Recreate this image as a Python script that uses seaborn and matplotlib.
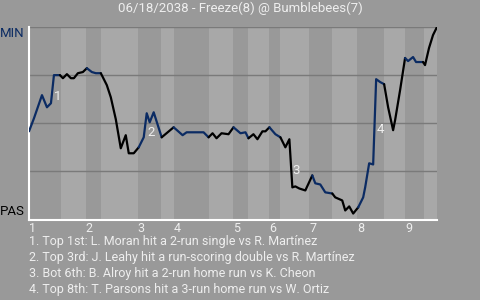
import matplotlib
matplotlib.use("Agg")
import matplotlib.pyplot as plt
import seaborn as sns
import pandas as pd

# ---------------- data ----------------
title = "06/18/2038 - Freeze(8) @ Bumblebees(7)"
away_label = "MIN"
home_label = "PAS"
inning_labels = ["1", "2", "3", "4", "5", "6", "7", "8", "9"]

# half-inning boundaries (play units)
half_bounds = [0, 8, 14.25, 18, 27.25, 33, 36.25, 45, 51.25, 55, 60.25, 63,
               70.25, 76, 82.25, 89, 94.25, 99, 102.25]

play = [0, 1.25, 3.25, 4.5, 5.5, 6.25, 7.75, 8.5, 9.5, 10.5, 11.25, 12.25,
        13.5, 14.5, 15.75, 16.75, 18, 19.5, 20.5, 21.75, 23, 24.25, 25,
        26.25, 27.5, 28.75, 29.5, 30.25, 31.25, 33.25, 36.25, 38.5, 39.5,
        43.75, 45, 46, 47, 48.25, 50, 51.25, 53, 54.25, 55, 56.25, 57.25,
        58.5, 59.25, 60.25, 61.75, 63, 64.25, 64.75, 65.25, 66, 66.75,
        67.75, 69.25, 71, 71.75, 73, 74.25, 76, 76.75, 78.5, 79.25, 80.25,
        81.25, 82.5, 83.75, 84.25, 85.25, 86.25, 87, 88, 89, 90, 91.25,
        91.75, 93, 94.25, 95, 96.25, 97, 98.75, 99.25, 100.25, 101.25,
        102.25]

win_prob = [0.458, 0.526, 0.646, 0.583, 0.604, 0.750, 0.750, 0.734, 0.755,
            0.734, 0.734, 0.760, 0.766, 0.786, 0.766, 0.760, 0.760, 0.698,
            0.635, 0.521, 0.370, 0.438, 0.344, 0.344, 0.375, 0.427, 0.552,
            0.505, 0.557, 0.427, 0.479, 0.438, 0.453, 0.453, 0.427, 0.448,
            0.422, 0.448, 0.443, 0.479, 0.448, 0.453, 0.422, 0.443, 0.417,
            0.458, 0.458, 0.479, 0.443, 0.427, 0.375, 0.396, 0.417, 0.167,
            0.172, 0.161, 0.151, 0.229, 0.188, 0.182, 0.141, 0.135, 0.115,
            0.099, 0.047, 0.068, 0.031, 0.063, 0.115, 0.167, 0.292, 0.286,
            0.729, 0.714, 0.703, 0.583, 0.464, 0.516, 0.672, 0.839, 0.823,
            0.844, 0.818, 0.818, 0.802, 0.891, 0.958, 1.000]

# index of the play (after the swing) for each key event
event_idx = [5, 26, 53, 72]
event_labels = ["1", "2", "3", "4"]
notes = [
    "1. Top 1st: L. Moran hit a 2-run single vs R. Martínez",
    "2. Top 3rd: J. Leahy hit a run-scoring double vs R. Martínez",
    "3. Bot 6th: B. Alroy hit a 2-run home run vs K. Cheon",
    "4. Top 8th: T. Parsons hit a 3-run home run vs W. Ortiz",
]

# ---------------- style ----------------
BG = "#999999"
LIGHT = "#a8a8a8"
GRID = "#7a7a7a"
NAVY = "#0b2b63"
TXT = "#eeeeee"

sns.set_theme(style="white")
plt.rcParams["font.family"] = ["Roboto", "DejaVu Sans"]

fig = plt.figure(figsize=(4.8, 3.0), dpi=100, facecolor=BG)
ax = fig.add_axes([29 / 480, 1 - 219.5 / 300, (437 - 29) / 480, (219.5 - 27) / 300])
ax.set_facecolor(BG)

# half-inning stripes
for i in range(len(half_bounds) - 1):
    ax.axvspan(half_bounds[i], half_bounds[i + 1], color=(LIGHT if i % 2 else BG),
               lw=0, zorder=0)

for yv in [0.25, 0.5, 0.75, 1.0]:
    ax.axhline(yv, color=GRID, lw=1.0, zorder=1)

df = pd.DataFrame({"play": play, "wp": win_prob})

# segment colors by half inning of segment midpoint
def half_of(x):
    for i in range(len(half_bounds) - 1):
        if half_bounds[i] <= x < half_bounds[i + 1]:
            return i
    return len(half_bounds) - 2

seg_par = [half_of((play[j] + play[j + 1]) / 2) % 2 for j in range(len(play) - 1)]
start = 0
for j in range(1, len(seg_par) + 1):
    if j == len(seg_par) or seg_par[j] != seg_par[start]:
        sub = df.iloc[start:j + 1]
        sns.lineplot(data=sub, x="play", y="wp", ax=ax, sort=False,
                     color=(NAVY if seg_par[start] == 0 else "black"),
                     lw=1.6, zorder=3, legend=False)
        start = j

for k, lab in zip(event_idx, event_labels):
    ymid = (win_prob[k] + win_prob[k - 1]) / 2
    ax.annotate(lab, xy=(play[k], ymid), xytext=(3, -5.5), textcoords="offset points",
                ha="center", va="center", color=TXT, fontsize=9.5, zorder=4)

ax.set_xlim(half_bounds[0], half_bounds[-1])
ax.set_ylim(0, 1)
ax.set_xlabel("")
ax.set_ylabel("")
ax.set_yticks([])
ax.set_xticks(half_bounds[0:18:2])
ax.set_xticklabels(inning_labels, ha="left", color=TXT, fontsize=9)
ax.tick_params(axis="x", length=0, pad=1.5)
for s in ["top", "right"]:
    ax.spines[s].set_visible(False)
for s in ["left", "bottom"]:
    ax.spines[s].set_color("white")
    ax.spines[s].set_linewidth(1.5)

ax.annotate(away_label, xy=(0, 1), xycoords="axes fraction", xytext=(-3, -4.5),
            textcoords="offset points", ha="right", va="center", color=NAVY, fontsize=9.5)
ax.annotate(home_label, xy=(0, 0), xycoords="axes fraction", xytext=(-3, 5.5),
            textcoords="offset points", ha="right", va="center", color="black", fontsize=9.5)

fig.text(0.5, 1 - 8 / 300, title, ha="center", va="center", color=TXT, fontsize=9.5)
for i, line in enumerate(notes):
    fig.text(29 / 480, 1 - (241 + 16 * i) / 300, line, ha="left", va="center",
             color=TXT, fontsize=9)

fig.savefig("out.png", dpi=100, facecolor=BG)
